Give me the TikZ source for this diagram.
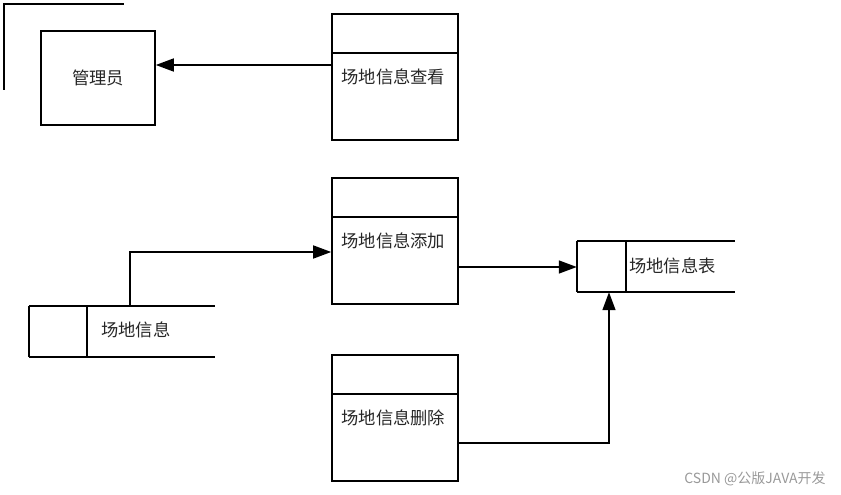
\documentclass[tikz,border=0pt]{standalone}
\usepackage{fontspec}
\newfontfamily\cjk{Noto Sans CJK SC}
\usetikzlibrary{arrows.meta,calc}
\begin{document}
\begin{tikzpicture}[x=1pt,y=-1pt,
  ln/.style={line width=1.6pt,black},
  box/.style={draw,ln,inner sep=0pt,minimum width=126pt,minimum height=126pt},
  ent/.style={draw,ln,inner sep=0pt,minimum width=114pt,minimum height=94pt,font=\cjk\fontsize{17.3}{19}\selectfont,text=black!85},
  lbl/.style={inner sep=0pt,anchor=west,font=\cjk\fontsize{17.3}{19}\selectfont,text=black!85},
  sq/.style={inner sep=0pt,minimum height=51pt},
  arr/.style={ln,-{Triangle[length=18pt,width=13pt]}},
  wm/.style={inner sep=0pt,font=\cjk\fontsize{14}{16}\selectfont,text=black!40}]
\useasboundingbox (0,0) rectangle (841,495);
% corner lines top-left
\coordinate (c1) at (4,90);
\coordinate (c2) at (4,4);
\coordinate (c3) at (124,4);
\draw[ln] (c1) -- (c2) -- (c3);
% entity
\node[ent] (admin) at (98,78) {管理员};
% process boxes
\node[box] (view) at (395,77) {};
\node[box] (add) at (395,241) {};
\node[box] (del) at (395,418) {};
\foreach \b/\t in {view/场地信息查看,add/场地信息添加,del/场地信息删除}{
  \draw[ln] ($(\b.north west)+(0,40)$) -- ($(\b.north east)+(0,40)$);
  \node[lbl] at ($(\b.north west)+(10,64)$) {\t};
}
% data store: 场地信息
\node[sq,minimum width=58pt] (src) at (58,331.5) {};
\coordinate (srcend) at (215,331.5);
\draw[ln] (src.north west) -- (src.south west);
\draw[ln] (src.north east) -- (src.south east);
\draw[ln] (src.north west) -- (src.north west -| srcend);
\draw[ln] (src.south west) -- (src.south west -| srcend);
\node[lbl] at (101,330) {场地信息};
% data store: 场地信息表
\node[sq,minimum width=49pt] (tbl) at (601.5,266.5) {};
\coordinate (tblend) at (735,266.5);
\draw[ln] (tbl.north west) -- (tbl.south west);
\draw[ln] (tbl.north east) -- (tbl.south east);
\draw[ln] (tbl.north west) -- (tbl.north west -| tblend);
\draw[ln] (tbl.south west) -- (tbl.south west -| tblend);
\node[lbl] at (629,266) {场地信息表};
% connector anchor points
\coordinate (viewout) at ($(view.west)+(0,-12)$);
\coordinate (srcout) at ($(src.north)+(72,0)$);
\coordinate (addin) at ($(add.west)+(0,11)$);
\coordinate (addout) at ($(add.east)+(0,26)$);
\coordinate (delout) at ($(del.east)+(0,25)$);
\coordinate (tblin) at ($(tbl.south)+(7.5,0)$);
% connectors
\draw[arr] (viewout) -- (admin.east |- viewout);
\draw[arr] (srcout) |- (addin);
\draw[arr] (addout) -- (tbl.west |- addout);
\draw[arr] (delout) -| (tblin);
% watermark
\node[wm] (mark) at (755,479) {CSDN @公版JAVA开发};
\end{tikzpicture}
\end{document}
